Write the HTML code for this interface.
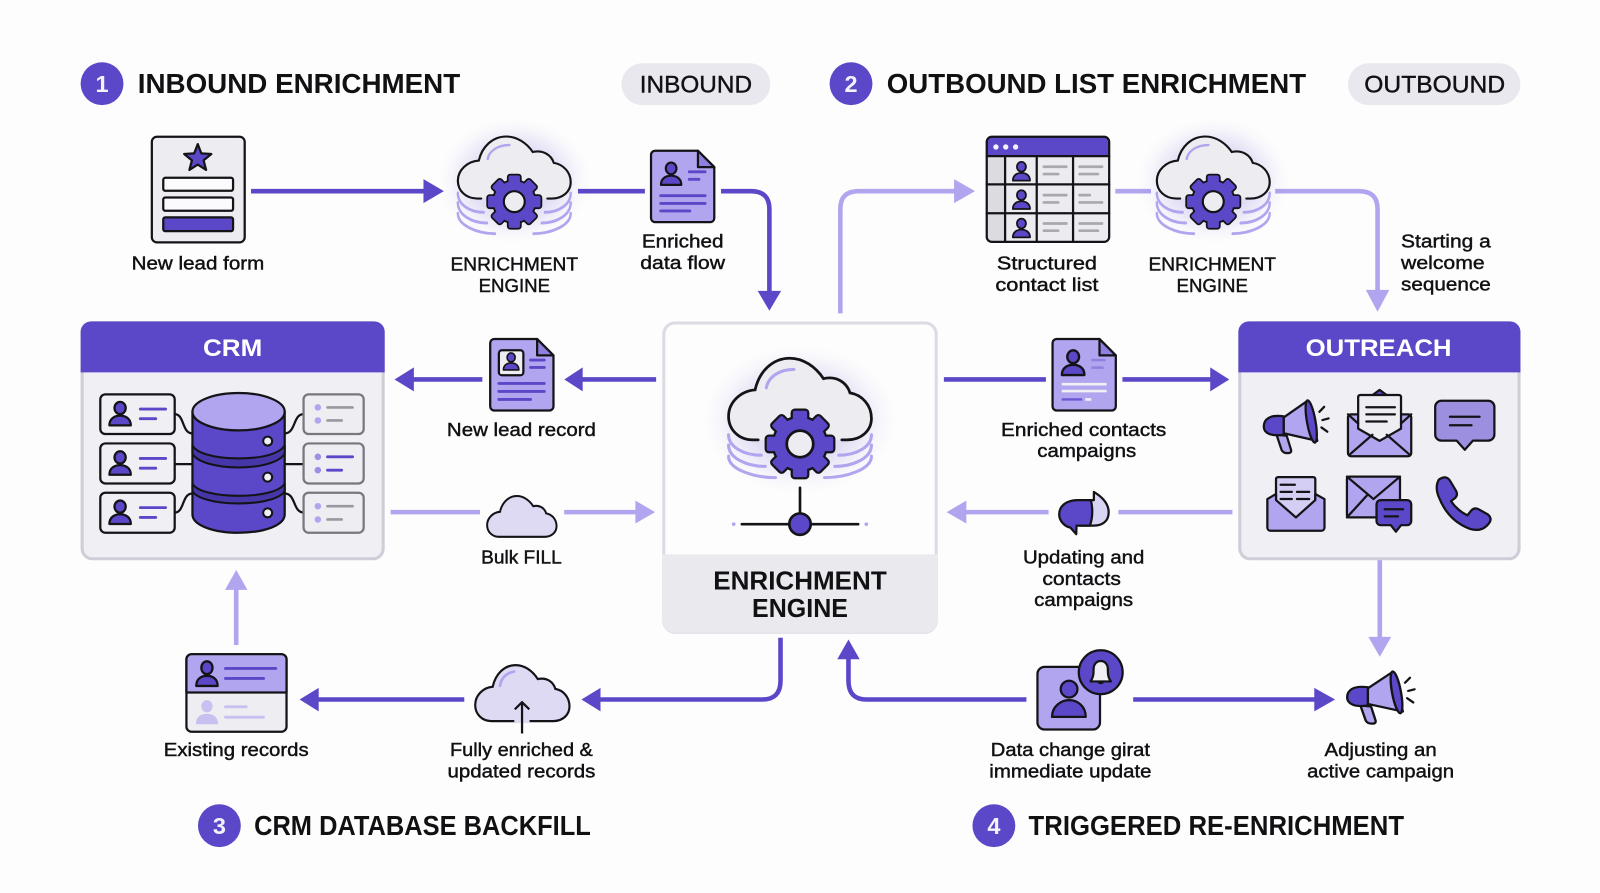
<!DOCTYPE html>
<html lang="en"><head><meta charset="utf-8"><title>Enrichment diagram</title>
<style>
html,body{margin:0;padding:0;background:#fdfdfd;width:1600px;height:893px;overflow:hidden}
svg{display:block}
text{font-family:"Liberation Sans",sans-serif;fill:#111114}
.t{font-size:27.4px;font-weight:700}
.l{font-size:18px;text-anchor:middle;stroke:#111114;stroke-width:.42px}
.n{font-size:24px;font-weight:700;fill:#fff;text-anchor:middle}
.c{font-size:25px;font-weight:700;text-anchor:middle}
.p{font-size:24px;text-anchor:middle;stroke:#111114;stroke-width:.4px}
.num{font-size:23px;font-weight:700;fill:#f3f2fb;text-anchor:middle}
.d{fill:none;stroke:#5a48c8;stroke-width:4.5}
.g{fill:none;stroke:#b0a5ee;stroke-width:4.5}
.dh{fill:#5a48c8}.gh{fill:#b0a5ee}
.s{stroke:#141418;stroke-width:2.2;stroke-linejoin:round;stroke-linecap:round}
.ln{fill:none;stroke:#5a48c8;stroke-width:2.8;stroke-linecap:round}
.bl{fill:none;stroke:#141418;stroke-width:2.2;stroke-linecap:round}
.gl{fill:none;stroke:#a8a8ae;stroke-width:2.6;stroke-linecap:round}
</style></head><body>
<svg width="1600" height="893" viewBox="0 0 1568 875" preserveAspectRatio="none" xmlns="http://www.w3.org/2000/svg">
<defs>
<radialGradient id="glow"><stop offset="0" stop-color="#5a48c8" stop-opacity=".26"/><stop offset=".55" stop-color="#5a48c8" stop-opacity=".17"/><stop offset=".85" stop-color="#5a48c8" stop-opacity=".035"/><stop offset="1" stop-color="#5a48c8" stop-opacity="0"/></radialGradient>
<g id="gs">
<circle r="25.5"/>
<rect x="-7" y="-32.5" width="14" height="14" rx="2"/>
<rect x="-7" y="-32.5" width="14" height="14" rx="2" transform="rotate(45)"/>
<rect x="-7" y="-32.5" width="14" height="14" rx="2" transform="rotate(90)"/>
<rect x="-7" y="-32.5" width="14" height="14" rx="2" transform="rotate(135)"/>
<rect x="-7" y="-32.5" width="14" height="14" rx="2" transform="rotate(180)"/>
<rect x="-7" y="-32.5" width="14" height="14" rx="2" transform="rotate(225)"/>
<rect x="-7" y="-32.5" width="14" height="14" rx="2" transform="rotate(270)"/>
<rect x="-7" y="-32.5" width="14" height="14" rx="2" transform="rotate(315)"/>
</g>
<ellipse id="eglow" cx="0" cy="-24" rx="94" ry="72" fill="url(#glow)"/>
<g id="elayers" fill="none" stroke="#b0a5ee" stroke-width="3" stroke-linecap="round">
<path d="M-70,-9 C-70,3 -55,11 -38,11 M-70,1 C-70,14 -52,22 -34,22 M-70,12 C-70,25 -45,33 -24,33"/>
<path d="M70,-9 C70,3 55,11 38,11 M70,1 C70,14 52,22 34,22 M70,12 C70,25 45,33 24,33"/>
</g>
<g id="ecloud">
<path d="M-41,-4 H-46 C-60,-4 -70,-14 -70,-27 C-70,-41 -58,-52 -44,-53 C-40,-71 -27,-84 -10,-84 C3,-84 15,-76 23,-64 C36,-67 46,-60 49,-50 C61,-48 70,-38 70,-25 C70,-13 60,-4 46,-4 H41" fill="#edecf0" stroke="#141418" stroke-width="2.7" stroke-linecap="round"/>
<path d="M-33,-55 C-31,-66 -20,-73 -6,-73" fill="none" stroke="#b0a5ee" stroke-width="3" stroke-linecap="round"/>
</g>
<g id="egear">
<use href="#gs" fill="#141418" stroke="#141418" stroke-width="4.4" stroke-linejoin="round"/>
<use href="#gs" fill="#5a48c8"/>
<circle r="13" fill="#edecf0" stroke="#141418" stroke-width="2.7"/>
</g>
<g id="small">
<use href="#eglow" transform="scale(.79,.85)"/>
<use href="#elayers" transform="scale(.79,.95)"/>
<use href="#ecloud" transform="scale(.79,.76)"/>
<use href="#egear" transform="scale(.79)"/>
</g>
<path id="cl" d="M-46,-4 C-60,-4 -70,-14 -70,-27 C-70,-41 -58,-52 -44,-53 C-40,-71 -27,-84 -10,-84 C3,-84 15,-76 23,-64 C36,-67 46,-60 49,-50 C61,-48 70,-38 70,-25 C70,-13 60,-4 46,-4 Z"/>
<g id="person" class="s" fill="#5a48c8">
<ellipse cx="0" cy="0" rx="5.5" ry="6"/>
<path d="M-10.5,17 C-10.5,10 -5,7.5 0,7.5 C5,7.5 10.5,10 10.5,17Z"/>
</g>
<path id="docp" d="M4,0 H46 L62,16 V66 a4,4 0 0 1 -4,4 H4 a4,4 0 0 1 -4,-4 V4 a4,4 0 0 1 4,-4Z"/>
<g id="mega" class="s">
<path d="M13,35 L18,50 Q19.5,53 24,53 Q28.5,53 27,49 L23,36Z" fill="#b0a5ee"/>
<path d="M20,18 L43,2 L53,41 L20,33.5Z" fill="#b0a5ee"/>
<path d="M20,17 C6,15 .5,20 .5,27 C.5,33 7,37 20,35Z" fill="#5a48c8"/>
<ellipse cx="47" cy="22" rx="4.2" ry="21" transform="rotate(-10 47 22)" fill="#5a48c8"/>
<path d="M55,12.5 L59.7,7.6 M58,20.6 L64,19 M57,27.8 L62.8,32" fill="none"/>
</g>
</defs>
<rect width="1568" height="875" fill="#fdfdfd"/>

<!-- headings -->
<circle cx="100" cy="82" r="21" fill="#5a48c8"/><text class="num" x="100" y="90">1</text>
<text class="t" x="135" y="91" textLength="316" lengthAdjust="spacingAndGlyphs">INBOUND ENRICHMENT</text>
<rect x="609" y="62" width="146" height="41" rx="20.5" fill="#e9e8ee"/>
<text class="p" x="682" y="90.5" textLength="110" lengthAdjust="spacingAndGlyphs">INBOUND</text>
<circle cx="834" cy="82" r="21" fill="#5a48c8"/><text class="num" x="834" y="90">2</text>
<text class="t" x="869" y="91" textLength="411" lengthAdjust="spacingAndGlyphs">OUTBOUND LIST ENRICHMENT</text>
<rect x="1321" y="62" width="169" height="41" rx="20.5" fill="#e9e8ee"/>
<text class="p" x="1406" y="90.5" textLength="138" lengthAdjust="spacingAndGlyphs">OUTBOUND</text>
<circle cx="215" cy="809" r="21" fill="#5a48c8"/><text class="num" x="215" y="817">3</text>
<text class="t" x="249" y="818" textLength="330" lengthAdjust="spacingAndGlyphs">CRM DATABASE BACKFILL</text>
<circle cx="974" cy="809" r="21" fill="#5a48c8"/><text class="num" x="974" y="817">4</text>
<text class="t" x="1008" y="818" textLength="368" lengthAdjust="spacingAndGlyphs">TRIGGERED RE-ENRICHMENT</text>

<!-- connectors -->
<path class="d" d="M246,187.3 H416"/><polygon class="dh" points="415,175.5 435,187.3 415,199"/>
<path class="d" d="M566.4,187.3 H632"/>
<path class="d" d="M706.6,187.3 H736 Q754,187.3 754,205 V287"/><polygon class="dh" points="742.5,285 765.5,285 754,304.5"/>
<path class="g" d="M823.5,307 V205 Q823.5,187.3 841,187.3 H936"/><polygon class="gh" points="935,175.5 955.5,187.3 935,199"/>
<path class="g" d="M1093,187.3 H1128"/>
<path class="g" d="M1249.7,187.3 H1332 Q1350,187.3 1350,205 V285"/><polygon class="gh" points="1338.5,284 1361.5,284 1350,305.5"/>
<path class="d" d="M643,371.8 H570"/><polygon class="dh" points="571,360 553,371.8 571,383.5"/>
<path class="d" d="M472.7,371.8 H404"/><polygon class="dh" points="405.6,360 386.6,371.8 405.6,383.5"/>
<path class="g" d="M382.8,501.8 H470.4 M552.9,501.8 H623"/><polygon class="gh" points="622.7,490.5 642,501.8 622.7,513"/>
<path class="d" d="M925,371.8 H1025 M1100,371.8 H1187"/><polygon class="dh" points="1186,360 1204.7,371.8 1186,383.5"/>
<path class="g" d="M1207.8,501.8 H1096 M1027.6,501.8 H946"/><polygon class="gh" points="947,490.5 927.7,501.8 947,513"/>
<path class="g" d="M1352.2,548 V625"/><polygon class="gh" points="1341,624 1363.4,624 1352.2,643.5"/>
<path class="g" d="M231.5,632 V577"/><polygon class="gh" points="220.5,578 242.5,578 231.5,558.5"/>
<path class="d" d="M764.9,624.9 V667 Q764.9,685.4 747,685.4 H587"/><polygon class="dh" points="588.5,674 569.8,685.4 588.5,697"/>
<path class="d" d="M455,685.4 H311"/><polygon class="dh" points="312.3,674 293.6,685.4 312.3,697"/>
<path class="d" d="M1005.9,685.4 H849 Q831.5,685.4 831.5,667 V645"/><polygon class="dh" points="820.5,646 842.5,646 831.5,626.6"/>
<path class="d" d="M1110.5,685.4 H1289"/><polygon class="dh" points="1288,674 1308.4,685.4 1288,697"/>

<!-- form -->
<rect class="s" x="148.8" y="134" width="91" height="103.5" rx="5" fill="#edecf0"/>
<polygon class="s" transform="translate(193.8,155.2)" fill="#5a48c8" points="0,-14 3.5,-4.9 13.3,-4.3 5.7,1.9 8.2,11.3 0,6 -8.2,11.3 -5.7,1.9 -13.3,-4.3 -3.5,-4.9"/>
<rect class="s" x="160" y="174.2" width="68.4" height="12.7" rx="2" fill="#fbfbfd"/>
<rect class="s" x="160" y="193.5" width="68.4" height="13" rx="2" fill="#fbfbfd"/>
<rect class="s" x="160" y="213" width="68.4" height="13.5" rx="2" fill="#5a48c8"/>
<text class="l" x="194" y="264" textLength="130" lengthAdjust="spacingAndGlyphs">New lead form</text>

<!-- engines -->
<use href="#small" transform="translate(504,197.6)"/>
<text class="l" x="504" y="265" textLength="125" lengthAdjust="spacingAndGlyphs">ENRICHMENT</text>
<text class="l" x="504" y="286" textLength="70" lengthAdjust="spacingAndGlyphs">ENGINE</text>
<use href="#small" transform="translate(1189,197.6)"/>
<text class="l" x="1188" y="265" textLength="125" lengthAdjust="spacingAndGlyphs">ENRICHMENT</text>
<text class="l" x="1188" y="286" textLength="70" lengthAdjust="spacingAndGlyphs">ENGINE</text>

<!-- doc 1 -->
<g transform="translate(638,147.7)">
<use href="#docp" class="s" fill="#b0a5ee"/>
<path class="s" d="M46,0 V16 H62Z" fill="#8f80e0"/>
<use href="#person" transform="translate(19.7,17.3) scale(.95)"/>
<path class="ln" d="M37.5,20.6 H53 M37.5,28 H47 M9.5,44 H53 M9.5,51.6 H53 M9.5,59 H38"/>
</g>
<text class="l" x="669" y="242.5" textLength="80" lengthAdjust="spacingAndGlyphs">Enriched</text>
<text class="l" x="669" y="263.5" textLength="83" lengthAdjust="spacingAndGlyphs">data flow</text>

<!-- table -->
<g>
<rect x="967" y="134" width="120" height="103" rx="5" fill="#ecebef"/>
<rect x="967" y="152" width="18" height="85" fill="#dcdbe0"/>
<path d="M967,153 V139 a5,5 0 0 1 5,-5 H1082 a5,5 0 0 1 5,5 V153Z" fill="#5a48c8"/>
<rect class="s" x="967" y="134" width="120" height="103" rx="5" fill="none"/>
<path class="bl" d="M967,153 H1087 M967,180.7 H1087 M967,209 H1087 M985,153 V237 M1016,153 V237 M1051.6,153 V237"/>
<circle cx="976" cy="144" r="2.6" fill="#f3f2fb"/><circle cx="985.6" cy="144" r="2.6" fill="#f3f2fb"/><circle cx="995.3" cy="144" r="2.6" fill="#f3f2fb"/>
<use href="#person" transform="translate(1001,163.4) scale(.8)"/>
<use href="#person" transform="translate(1001,191.2) scale(.8)"/>
<use href="#person" transform="translate(1001,219) scale(.8)"/>
<path class="gl" d="M1023,163.4 H1045 M1023,170.6 H1037 M1058,163.4 H1080 M1058,170.6 H1076 M1023,191.2 H1045 M1023,198.4 H1037 M1058,191.2 H1068 M1058,198.4 H1080 M1023,219 H1045 M1023,226 H1037 M1058,219 H1080 M1058,226 H1076"/>
</g>
<text class="l" x="1026" y="264" textLength="98" lengthAdjust="spacingAndGlyphs">Structured</text>
<text class="l" x="1026" y="285" textLength="101" lengthAdjust="spacingAndGlyphs">contact list</text>
<text class="l" x="1373" y="242.5" style="text-anchor:start" textLength="88" lengthAdjust="spacingAndGlyphs">Starting a</text>
<text class="l" x="1373" y="263.5" style="text-anchor:start" textLength="82" lengthAdjust="spacingAndGlyphs">welcome</text>
<text class="l" x="1373" y="284.5" style="text-anchor:start" textLength="88" lengthAdjust="spacingAndGlyphs">sequence</text>

<!-- CRM -->
<rect x="80.5" y="316" width="295" height="231.5" rx="10" fill="#f0eff4" stroke="#cfcdd8" stroke-width="3"/>
<path d="M79,364.9 V325 a10,10 0 0 1 10,-10 H367 a10,10 0 0 1 10,10 V364.9Z" fill="#5a48c8"/>
<text class="n" x="228" y="349" textLength="58" lengthAdjust="spacingAndGlyphs">CRM</text>
<path class="bl" d="M171.2,405.8 C181,405.8 178,424.7 188.6,424.7 M171.2,454.8 H188.6 M171.2,502.2 C181,502.2 178,483.5 188.6,483.5 M279,424.7 C290,424.7 287,405.8 297.5,405.8 M279,454.8 H297.5 M279,483.5 C290,483.5 287,502.2 297.5,502.2"/>
<g fill="#f0eff4" class="s">
<rect x="98.3" y="386.4" width="72.9" height="38.9" rx="5"/>
<rect x="98.3" y="434.5" width="72.9" height="39.2" rx="5"/>
<rect x="98.3" y="482.8" width="72.9" height="39.2" rx="5"/>
</g>
<use href="#person" transform="translate(117.7,399.8)"/><use href="#person" transform="translate(117.7,448.2)"/><use href="#person" transform="translate(117.7,496.4)"/>
<path class="ln" d="M137.5,400.8 H162.3 M137.5,410.3 H152.6 M137.5,449.2 H162.3 M137.5,458.8 H152.6 M137.5,497.4 H162.3 M137.5,507 H152.6"/>
<g fill="#eeedf2" stroke="#77777e" stroke-width="2.2">
<rect x="297.5" y="386.4" width="58.9" height="38.9" rx="5"/>
<rect x="297.5" y="434.5" width="58.9" height="39.2" rx="5"/>
<rect x="297.5" y="482.8" width="58.9" height="39.2" rx="5"/>
</g>
<g fill="#b0a5ee"><circle cx="311.5" cy="399.2" r="3.2"/><circle cx="311.5" cy="412" r="3.2"/><circle cx="311.5" cy="447.6" r="3.2" fill="#9d8fe6"/><circle cx="311.5" cy="460.7" r="3.2" fill="#9d8fe6"/><circle cx="311.5" cy="496" r="3.2"/><circle cx="311.5" cy="509" r="3.2"/></g>
<path class="gl" d="M321,399.2 H345.5 M321,412 H334.8 M321,496 H345.5 M321,509 H334.8" style="stroke:#98989e"/>
<path class="ln" d="M321,447.6 H345.5 M321,460.7 H334.8"/>
<!-- database -->
<path class="s" d="M188.6,403.4 V504 C188.6,515 210,522 233.8,522 C258,522 279,515 279,504 V403.4Z" fill="#5a48c8"/>
<path d="M188.6,436.2 C192,444 210,449.2 233.8,449.2 C258,449.2 275,444 279,436.2 V444.3 C275,452 258,458 233.8,458 C210,458 192,452 188.6,444.3Z" fill="#4637a8" stroke="#141418" stroke-width="2"/>
<path d="M188.6,473.7 C192,481 210,485.8 233.8,485.8 C258,485.8 275,481 279,473.7 V481.2 C275,488 258,493.3 233.8,493.3 C210,493.3 192,488 188.6,481.2Z" fill="#4637a8" stroke="#141418" stroke-width="2"/>
<ellipse class="s" cx="233.8" cy="403.4" rx="45.2" ry="18.3" fill="#b0a5ee"/>
<g fill="#f0eff4" stroke="#141418" stroke-width="2"><circle cx="262.3" cy="432.2" r="4.4"/><circle cx="262.3" cy="467.5" r="4.4"/><circle cx="262.3" cy="502.5" r="4.4"/></g>

<!-- doc 2 -->
<g transform="translate(480.4,332.2)">
<use href="#docp" class="s" fill="#b0a5ee"/>
<path class="s" d="M46,0 V16 H62Z" fill="#8f80e0"/>
<rect class="s" x="8.5" y="11" width="24" height="24.5" rx="3" fill="#eeedf2"/>
<use href="#person" transform="translate(20.5,18) scale(.72)"/>
<path class="ln" d="M39.5,20.6 H53 M39.5,27.8 H53 M8.5,43.5 H53 M8.5,51.3 H53 M8.5,59.2 H39.5"/>
</g>
<text class="l" x="511" y="427" textLength="146" lengthAdjust="spacingAndGlyphs">New lead record</text>

<!-- bulk cloud -->
<use href="#cl" transform="translate(511.4,528) scale(.486,.5)" fill="#dedaf4" stroke="#141418" stroke-width="4"/>
<text class="l" x="511" y="552" textLength="79" lengthAdjust="spacingAndGlyphs">Bulk FILL</text>

<!-- center -->
<rect x="650.5" y="316.5" width="267" height="303" rx="11" fill="#fdfdfd" stroke="#dcdbe3" stroke-width="3"/>
<path d="M649,543.2 H919 V608 a12,12 0 0 1 -12,12 H661 a12,12 0 0 1 -12,-12Z" fill="#eae9ee"/>
<use href="#eglow" transform="translate(784,435)"/>
<use href="#elayers" transform="translate(784,435)"/>
<use href="#ecloud" transform="translate(784,435)"/>
<use href="#egear" transform="translate(784,435)"/>
<path d="M784,478 V513.6 M727,513.6 H841" fill="none" stroke="#141418" stroke-width="2.6" stroke-linecap="round"/>
<circle cx="784" cy="513.6" r="10.5" fill="#5a48c8" stroke="#141418" stroke-width="2.6"/>
<circle cx="719" cy="513.6" r="1.8" fill="#b0a5ee"/><circle cx="849" cy="513.6" r="1.8" fill="#b0a5ee"/>
<text class="c" x="784" y="577.7" textLength="170" lengthAdjust="spacingAndGlyphs">ENRICHMENT</text>
<text class="c" x="784" y="604.5" textLength="94" lengthAdjust="spacingAndGlyphs">ENGINE</text>

<!-- doc 3 -->
<g transform="translate(1031.5,332.2)">
<use href="#docp" class="s" fill="#b0a5ee"/>
<path class="s" d="M46,0 V16 H62Z" fill="#8f80e0"/>
<use href="#person" transform="translate(20.2,17.4) scale(1.05)"/>
<path d="M38,20.6 H52 M38,28 H50" fill="none" stroke="#8f80e0" stroke-width="2.4"/>
<path d="M9,44.2 H53 M9,51 H53" fill="none" stroke="#f0eff4" stroke-width="2.6"/>
<path d="M9,59.2 H29" fill="none" stroke="#6a58d0" stroke-width="2.4"/><path d="M32,59.2 H38" fill="none" stroke="#f0eff4" stroke-width="2.6"/>
</g>
<text class="l" x="1062" y="427" textLength="162" lengthAdjust="spacingAndGlyphs">Enriched contacts</text>
<text class="l" x="1065" y="448" textLength="97" lengthAdjust="spacingAndGlyphs">campaigns</text>

<!-- outreach -->
<rect x="1215" y="316" width="273.7" height="231.5" rx="10" fill="#f0eff4" stroke="#cfcdd8" stroke-width="3"/>
<path d="M1213.6,364.9 V325 a10,10 0 0 1 10,-10 H1480 a10,10 0 0 1 10,10 V364.9Z" fill="#5a48c8"/>
<text class="n" x="1351" y="349" textLength="143" lengthAdjust="spacingAndGlyphs">OUTREACH</text>
<use href="#mega" transform="translate(1238,391)"/>
<!-- open envelope -->
<g transform="translate(1321,382)" class="s">
<path d="M12,14 L31,0 L50,14Z" fill="#5a48c8"/>
<rect x="0" y="24" width="62" height="41" rx="3" fill="#b0a5ee"/>
<path d="M10,7 a2,2 0 0 1 2,-2 H50 a2,2 0 0 1 2,2 V38 L31,50 L10,38Z" fill="#eeedf2"/>
<path d="M18,17 H46 M18,24 H46 M18,31 H38 M1,64 L24,44 M61,64 L38,44 M0,24 L10,33 M62,24 L52,33" fill="none"/>
</g>
<!-- chat -->
<g transform="translate(1406.5,392.7)" class="s">
<path d="M6,0 H52 a6,6 0 0 1 6,6 V33 a6,6 0 0 1 -6,6 H37 L29,48 L21,39 H6 a6,6 0 0 1 -6,-6 V6 a6,6 0 0 1 6,-6Z" fill="#9d8fe0"/>
<path d="M14.4,15.7 H43.5 M14.4,24 H35.6" fill="none"/>
</g>
<!-- mail with doc -->
<g transform="translate(1242,467)" class="s">
<rect x="8.5" y="0.5" width="38.5" height="44" rx="2" fill="#d4cef4"/>
<path d="M13,8 H27 M13,15 H24 M29,15 H41 M13,22 H24 M29,22 H41" fill="none"/>
<path d="M0,22 L8.5,17 V23 L28,40 L47,23 V17 L56,22 V50 a3,3 0 0 1 -3,3 H3 a3,3 0 0 1 -3,-3Z" fill="#b0a5ee"/>
</g>
<!-- mail + chat -->
<g transform="translate(1320,467)" class="s">
<rect x="0" y="0" width="52" height="40" rx="2" fill="#b0a5ee"/>
<path d="M0,0 L26,22 L52,0 M0,40 L20,18" fill="none"/>
<path d="M33,23 H59 a4,4 0 0 1 4,4 V43.6 a4,4 0 0 1 -4,4 H53 L48,54 L43,47.6 H33 a4,4 0 0 1 -4,-4 V27 a4,4 0 0 1 4,-4Z" fill="#5a48c8"/>
<path d="M37,32 H55 M37,39 H50" fill="none"/>
</g>
<!-- phone -->
<path class="s" transform="translate(1407,467)" fill="#5a48c8" d="M3,3 Q10,-2 14,4 L20,14 Q22,18 19,21 L15,24 Q21,33 31,38 L35,33 Q38,30 42,32 L51,37 Q56,41 52,46 Q45,55 33,51 Q12,43 3,20 Q-1,10 3,3Z"/>

<!-- updating icon -->
<g transform="translate(1038,482)" class="s">
<path d="M24,8 H34 V0 C44,6 48.5,13 48.5,20 C48.5,29 42,33 34,33 H20Z" fill="#d8d4f3"/>
<path d="M31,8 H18 C7,8 0,14 0,22 C0,29 6,34 11,35 L16.7,41.4 L17,33 H30 C33,26 33,15 31,8Z" fill="#5a48c8"/>
</g>
<text class="l" x="1062" y="552" textLength="119" lengthAdjust="spacingAndGlyphs">Updating and</text>
<text class="l" x="1060" y="573" textLength="77" lengthAdjust="spacingAndGlyphs">contacts</text>
<text class="l" x="1062" y="594" textLength="97" lengthAdjust="spacingAndGlyphs">campaigns</text>

<!-- existing records -->
<g class="s">
<rect x="182.7" y="641" width="98.1" height="76" rx="5" fill="#eeedf2"/>
<path d="M182.7,678.5 V646 a5,5 0 0 1 5,-5 H275.8 a5,5 0 0 1 5,5 V678.5Z" fill="#b0a5ee"/>
</g>
<use href="#person" transform="translate(202.8,654.3) scale(1,1.05)"/>
<path class="ln" d="M221,655 H270.2 M221,664.8 H258.3"/>
<g fill="#c8c0f0"><ellipse cx="202.8" cy="692" rx="5.5" ry="6"/><path d="M192,709.6 C192,702 197,699.5 202.8,699.5 C208,699.5 213.7,702 213.7,709.6Z"/></g>
<path d="M221,692.6 H241.3 M221,702.7 H258.3" fill="none" stroke="#c8c0f0" stroke-width="2.8" stroke-linecap="round"/>
<text class="l" x="231.5" y="741" textLength="142" lengthAdjust="spacingAndGlyphs">Existing records</text>

<!-- fully enriched cloud -->
<use href="#cl" transform="translate(511.9,709.3) scale(.66,.686)" fill="#dedaf4" stroke="#141418" stroke-width="3.2"/>
<rect x="504" y="703" width="15" height="5.5" fill="#dedaf4"/>
<path d="M511.6,718.7 V688 M504.5,695 L511.6,688 L518.7,695" fill="none" stroke="#141418" stroke-width="2.2"/>
<path d="M490,672 C491,664 497,659 504,658" fill="none" stroke="#b0a5ee" stroke-width="2.6" stroke-linecap="round"/>
<text class="l" x="511" y="741" textLength="140" lengthAdjust="spacingAndGlyphs">Fully enriched &amp;</text>
<text class="l" x="511" y="762" textLength="145" lengthAdjust="spacingAndGlyphs">updated records</text>

<!-- trigger -->
<rect class="s" x="1016.7" y="653.4" width="61.3" height="61.4" rx="7" fill="#b0a5ee"/>
<circle class="s" cx="1047.7" cy="675.2" r="8.2" fill="#5a48c8"/>
<path class="s" d="M1031,702.4 C1031,692 1040,686 1047.7,686 C1056,686 1064,692 1064,702.4Z" fill="#5a48c8"/>
<circle class="s" cx="1078.7" cy="658.7" r="21.5" fill="#5a48c8"/>
<g transform="translate(1078.7,658.7)" class="s" fill="#f0eff4">
<path d="M-2.5,9 a2.8,3 0 0 0 5,0Z"/>
<path d="M-10,9 C-7,5 -7,1 -7,-3 C-7,-8 -4,-11 0,-11 C4,-11 7,-8 7,-3 C7,1 7,5 10,9Z"/>
</g>
<text class="l" x="1049" y="741" textLength="156" lengthAdjust="spacingAndGlyphs">Data change girat</text>
<text class="l" x="1049" y="762" textLength="159" lengthAdjust="spacingAndGlyphs">immediate update</text>
<use href="#mega" transform="translate(1319.7,656.6) scale(1.04,.99)"/>
<text class="l" x="1353" y="741" textLength="110" lengthAdjust="spacingAndGlyphs">Adjusting an</text>
<text class="l" x="1353" y="762" textLength="144" lengthAdjust="spacingAndGlyphs">active campaign</text>
</svg>
</body></html>
